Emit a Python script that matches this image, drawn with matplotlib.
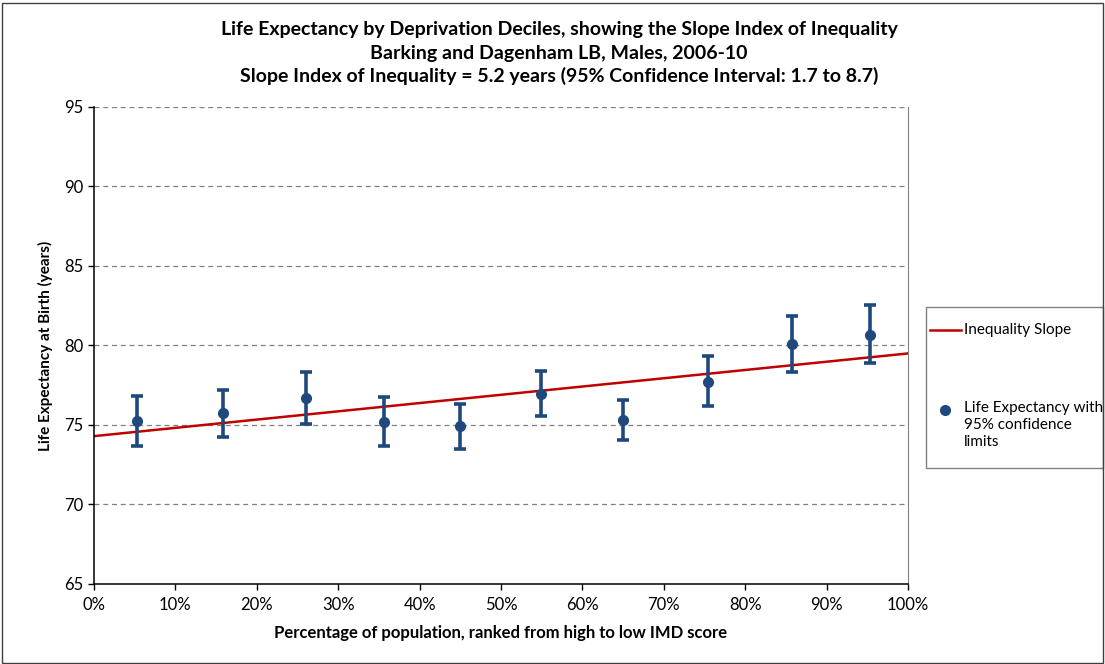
import matplotlib
matplotlib.use("Agg")
import matplotlib.pyplot as plt
from matplotlib.lines import Line2D
from matplotlib.patches import Rectangle
from matplotlib.ticker import PercentFormatter

plt.rcParams['font.family'] = ['Lato', 'DejaVu Sans']

# Données
pct_pop = [5.3, 15.9, 26.0, 35.6, 45.0, 54.9, 65.0, 75.4, 85.7, 95.3]
life_exp = [75.25, 75.73, 76.71, 75.21, 74.92, 76.96, 75.33, 77.73, 80.08, 80.68]
ci_low = [73.69, 74.27, 75.08, 73.69, 73.46, 75.56, 74.08, 76.20, 78.35, 78.88]
ci_high = [76.83, 77.19, 78.31, 76.73, 76.33, 78.40, 76.56, 79.33, 81.83, 82.52]
slope_x = [0, 100]
slope_y = [74.3, 79.5]

blue = '#1F497D'
red = '#C00000'

fig = plt.figure(figsize=(11.05, 6.64), dpi=100)
ax = fig.add_axes([94 / 1105, 1 - 584 / 664, 814 / 1105, 477 / 664])

err_lo = [v - l for v, l in zip(life_exp, ci_low)]
err_hi = [h - v for v, h in zip(life_exp, ci_high)]
ax.errorbar(pct_pop, life_exp, yerr=[err_lo, err_hi], fmt='o', color=blue,
            markersize=7, elinewidth=2.6, capsize=4.5, capthick=2.6, zorder=3)
ax.plot(slope_x, slope_y, color=red, linewidth=1.8, zorder=2)

ax.set_xlim(0, 100)
ax.set_ylim(65, 95)
ax.set_xticks(range(0, 101, 10))
ax.set_yticks(range(65, 96, 5))
ax.xaxis.set_major_formatter(PercentFormatter(decimals=0))
ax.tick_params(axis='both', labelsize=12, length=4, direction='out', width=1)
ax.tick_params(axis='x', pad=5)
ax.yaxis.grid(True, linestyle=(0, (4, 3)), color='#808080', linewidth=0.9)
ax.set_axisbelow(True)
ax.spines['top'].set_visible(False)
ax.spines['right'].set_color('#808080')
ax.spines['left'].set_linewidth(1.1)
ax.spines['bottom'].set_linewidth(1.1)

ax.set_xlabel('Percentage of population, ranked from high to low IMD score',
              fontsize=12, fontweight='bold', labelpad=9)
ax.set_ylabel('Life Expectancy at Birth (years)', fontsize=11,
              fontweight='bold', labelpad=8)

titles = ['Life Expectancy by Deprivation Deciles, showing the Slope Index of Inequality',
          'Barking and Dagenham LB, Males, 2006-10',
          'Slope Index of Inequality = 5.2 years (95% Confidence Interval: 1.7 to 8.7)']
for i, t in enumerate(titles):
    fig.text(559 / 1105, 1 - (30 + 23 * i) / 664, t, ha='center', va='center',
             fontsize=14, fontweight='bold')

# Légende dessinée à la main
fig.add_artist(Rectangle((926 / 1105, 1 - 468 / 664), 177 / 1105, 161 / 664,
                         transform=fig.transFigure, fill=False,
                         edgecolor='#808080', linewidth=1))
fig.add_artist(Line2D([930 / 1105, 961 / 1105], [1 - 330 / 664] * 2,
                      transform=fig.transFigure, color=red, linewidth=1.8))
fig.text(964 / 1105, 1 - 330 / 664, 'Inequality Slope', va='center', fontsize=11)
fig.add_artist(Line2D([945 / 1105], [1 - 410 / 664], transform=fig.transFigure,
                      marker='o', color=blue, markersize=7))
fig.text(964 / 1105, 1 - 401 / 664, 'Life Expectancy with\n95% confidence\nlimits',
         va='top', fontsize=11, linespacing=1.25)

# Cadre extérieur
fig.add_artist(Rectangle((0.002, 0.002), 0.996, 0.994, transform=fig.transFigure,
                         fill=False, edgecolor='#404040', linewidth=1))

fig.savefig('out.png', dpi=100)
